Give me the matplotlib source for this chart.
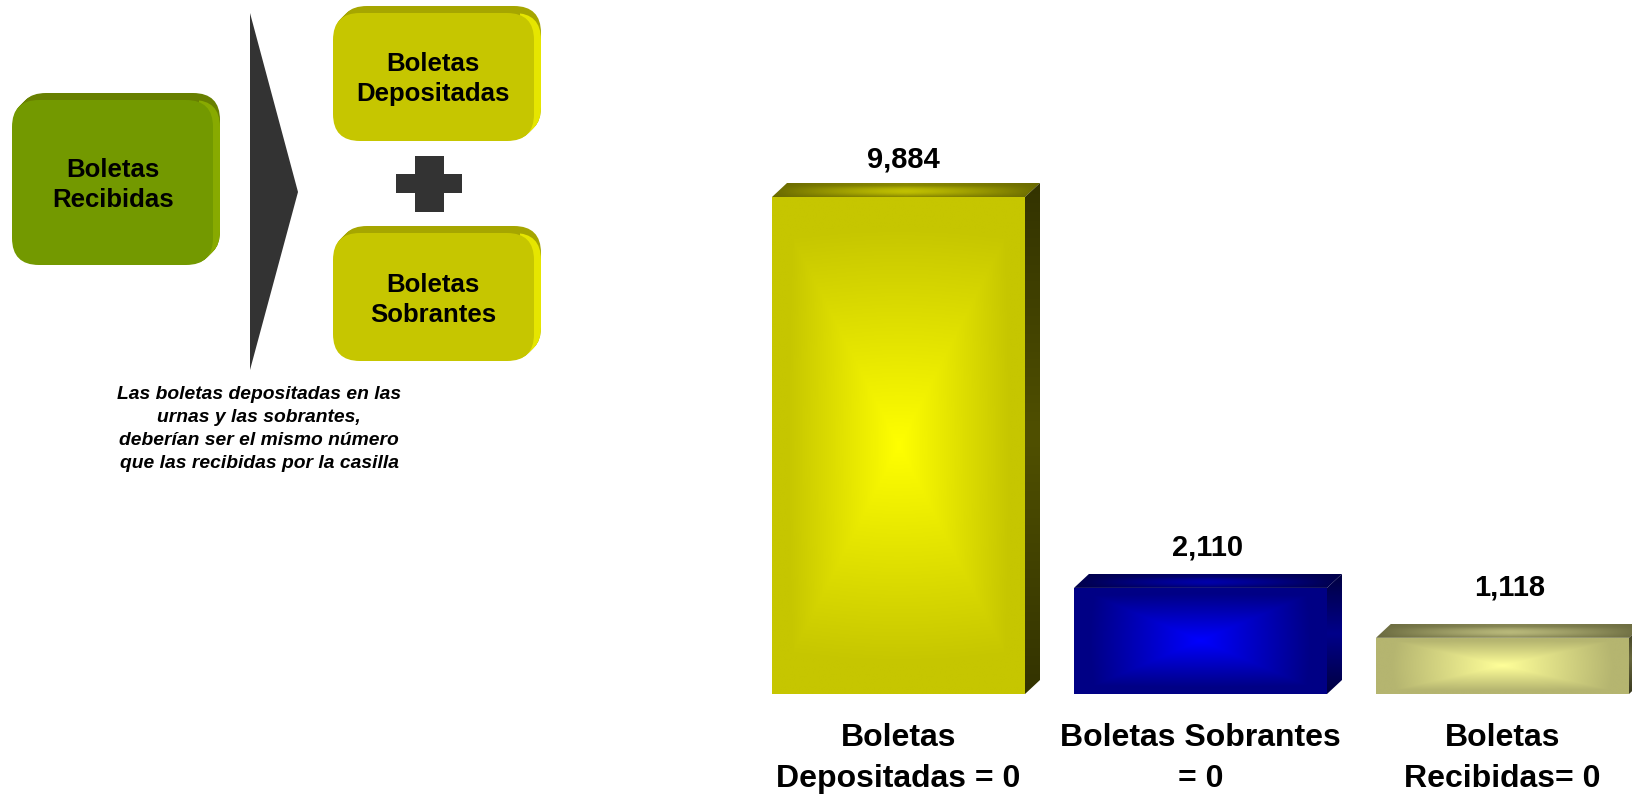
import numpy as np
import matplotlib
matplotlib.use('Agg')
import matplotlib.pyplot as plt
from matplotlib.patches import FancyBboxPatch, Polygon
from matplotlib.colors import LinearSegmentedColormap

plt.rcParams['font.family'] = ['Liberation Sans', 'DejaVu Sans']

categories = ['Boletas\nDepositadas = 0', 'Boletas Sobrantes\n= 0', 'Boletas\nRecibidas= 0']
values = [9884, 2110, 1118]
value_labels = ['9,884', '2,110', '1,118']

# center / edge of the front face, top face dark+light, side face
front_center = ['#ffff00', '#0000ff', '#ffff99']
front_edge = ['#c6c600', '#000085', '#b5b570']
top_dark = ['#6a6a00', '#00004a', '#6b6b40']
top_light = ['#c0c000', '#0000a8', '#b8b87a']
side_mid = ['#505000', '#00008a', '#66663c']
side_end = ['#333300', '#000040', '#3a3a20']
label_gap = [25, 28, 38]
label_shift = [-3, 0, 0]

W, H = 1632, 794
base_px = 694
bar_w_px = 253
step_px = 302
first_center_px = 898.5
dx, dy = 15, 14   # 3d depth in pixels
px_per_val = 497 / 9884

fig = plt.figure(figsize=(W / 100, H / 100), dpi=100)

# left diagram, in pixel coordinates
dg = fig.add_axes([0, 0, 1, 1])
dg.set_xlim(0, W)
dg.set_ylim(H, 0)
dg.axis('off')


def rounded(x0, y0, x1, y1, c, z):
    r = 27
    p = FancyBboxPatch((x0 + r, y0 + r), x1 - x0 - 2 * r, y1 - y0 - 2 * r,
                       boxstyle='round,pad=%d,rounding_size=%d' % (r, r),
                       fc=c, ec='none', zorder=z)
    dg.add_patch(p)
    return p


def box(x0, y0, x1, y1, face, top, right):
    d = 7
    # extrude up and right, one pixel at a time
    for k in range(d, 0, -1):
        rounded(x0 + k, y0 - k, x1 + k, y1 - k, top, 2)
    clip = dg.add_patch(Polygon([(x1 - 14, y0 - d - 2), (x1 + d + 2, y0 - d - 2),
                                 (x1 + d + 2, y1 + 2), (x1 - 14, y1 + 2)],
                                fc='none', ec='none'))
    for k in range(d, 0, -1):
        p = rounded(x0 + k, y0 - k + 7, x1 + k, y1 - k, right, 3)
        p.set_clip_path(clip)
    rounded(x0, y0, x1, y1, face, 4)


box(12, 100, 213, 265, '#739900', '#688000', '#88aa00')
box(333, 13, 534, 141, '#c6c600', '#a6a600', '#e6e600')
box(333, 233, 534, 361, '#c6c600', '#a6a600', '#e6e600')

dg.add_patch(Polygon([(250, 13), (298, 192), (250, 370)], fc='#333333', ec='none'))
dg.add_patch(Polygon([(415, 156), (444, 156), (444, 174), (462, 174), (462, 193), (444, 193),
                      (444, 212), (415, 212), (415, 193), (396, 193), (396, 174), (415, 174)],
                     fc='#333333', ec='none'))

box_font = dict(ha='center', va='center', fontsize=18.5, fontweight='bold', linespacing=1.36, zorder=5)
dg.text(113, 185, 'Boletas\nRecibidas', **box_font)
dg.text(433, 79, 'Boletas\nDepositadas', **box_font)
dg.text(433, 300, 'Boletas\nSobrantes', **box_font)
dg.text(259, 429, 'Las boletas depositadas en las\nurnas y las sobrantes,\n'
        'deberían ser el mismo número\nque las recibidas por la casilla',
        ha='center', va='center', fontsize=13.9, fontweight='bold', style='italic', linespacing=1.47)

# bar chart, shares the figure but has its own scale
ax = fig.add_axes([0, (H - base_px) / H, 1, base_px / H])
ax.patch.set_alpha(0)
ax.set_xlim(-first_center_px / step_px, (W - first_center_px) / step_px)
ax.set_ylim(0, base_px / px_per_val)
for s in ax.spines.values():
    s.set_visible(False)
ax.set_yticks([])
x = np.arange(len(values))
ax.set_xticks(x, categories)
ax.tick_params(axis='x', length=0, pad=21, labelsize=23)
for t in ax.get_xticklabels():
    t.set_fontweight('bold')
    t.set_linespacing(1.47)

bw = bar_w_px / step_px
ddx = dx / step_px
ddy = dy / px_per_val

bars = ax.bar(x, values, width=bw, color='none', zorder=3)


def grad_face(arr, colors, extent, clip):
    cm = LinearSegmentedColormap.from_list('g', colors)
    im = ax.imshow(arr, cmap=cm, vmin=0, vmax=1, extent=extent, origin='lower',
                   aspect='auto', interpolation='bilinear', zorder=2)
    im.set_clip_path(clip)


for i, b in enumerate(bars):
    x0, x1 = b.get_x(), b.get_x() + b.get_width()
    v = b.get_height()

    # front, rectangular path gradient softened a little with a round one
    u, w = np.meshgrid(np.linspace(-1, 1, 200), np.linspace(-1, 1, 200))
    t = 0.9 * np.maximum(np.abs(u), np.abs(w)) * 1.15 + 0.1 * np.hypot(u, w)
    t = np.clip(t, 0, 1)
    front = ax.add_patch(Polygon([(x0, 0), (x1, 0), (x1, v), (x0, v)], fc='none', ec='none'))
    grad_face(t, [front_center[i], front_edge[i]], (x0, x1, 0, v), front)

    # top face
    u, w = np.meshgrid(np.linspace(-1, 1, 200), np.linspace(0, 1, 30))
    t = np.clip(1 - np.abs(u) ** 1.3, 0, 1) * (0.35 + 0.65 * np.sin(np.pi * np.clip(w * 1.2, 0, 1)))
    top = ax.add_patch(Polygon([(x0, v), (x1, v), (x1 + ddx, v + ddy), (x0 + ddx, v + ddy)],
                               fc='none', ec='none'))
    grad_face(t, [top_dark[i], top_light[i]], (x0, x1 + ddx, v, v + ddy), top)

    # side face
    w = np.linspace(0, 1, 100).reshape(-1, 1)
    side = ax.add_patch(Polygon([(x1, 0), (x1 + ddx, ddy), (x1 + ddx, v + ddy), (x1, v)],
                                fc='none', ec='none'))
    grad_face(np.abs(2 * w - 1), [side_mid[i], side_end[i]], (x1, x1 + ddx, 0, v + ddy), side)

    ax.annotate(value_labels[i], (x[i] + ddx / 2, v + ddy),
                xytext=(label_shift[i] * 0.72, label_gap[i] * 0.72 - 1.4),
                textcoords='offset points', ha='center', va='center',
                fontsize=21, fontweight='bold', zorder=5)

ax.set_xlim(-first_center_px / step_px, (W - first_center_px) / step_px)
ax.set_ylim(0, base_px / px_per_val)

fig.savefig('out.png', dpi=100)
